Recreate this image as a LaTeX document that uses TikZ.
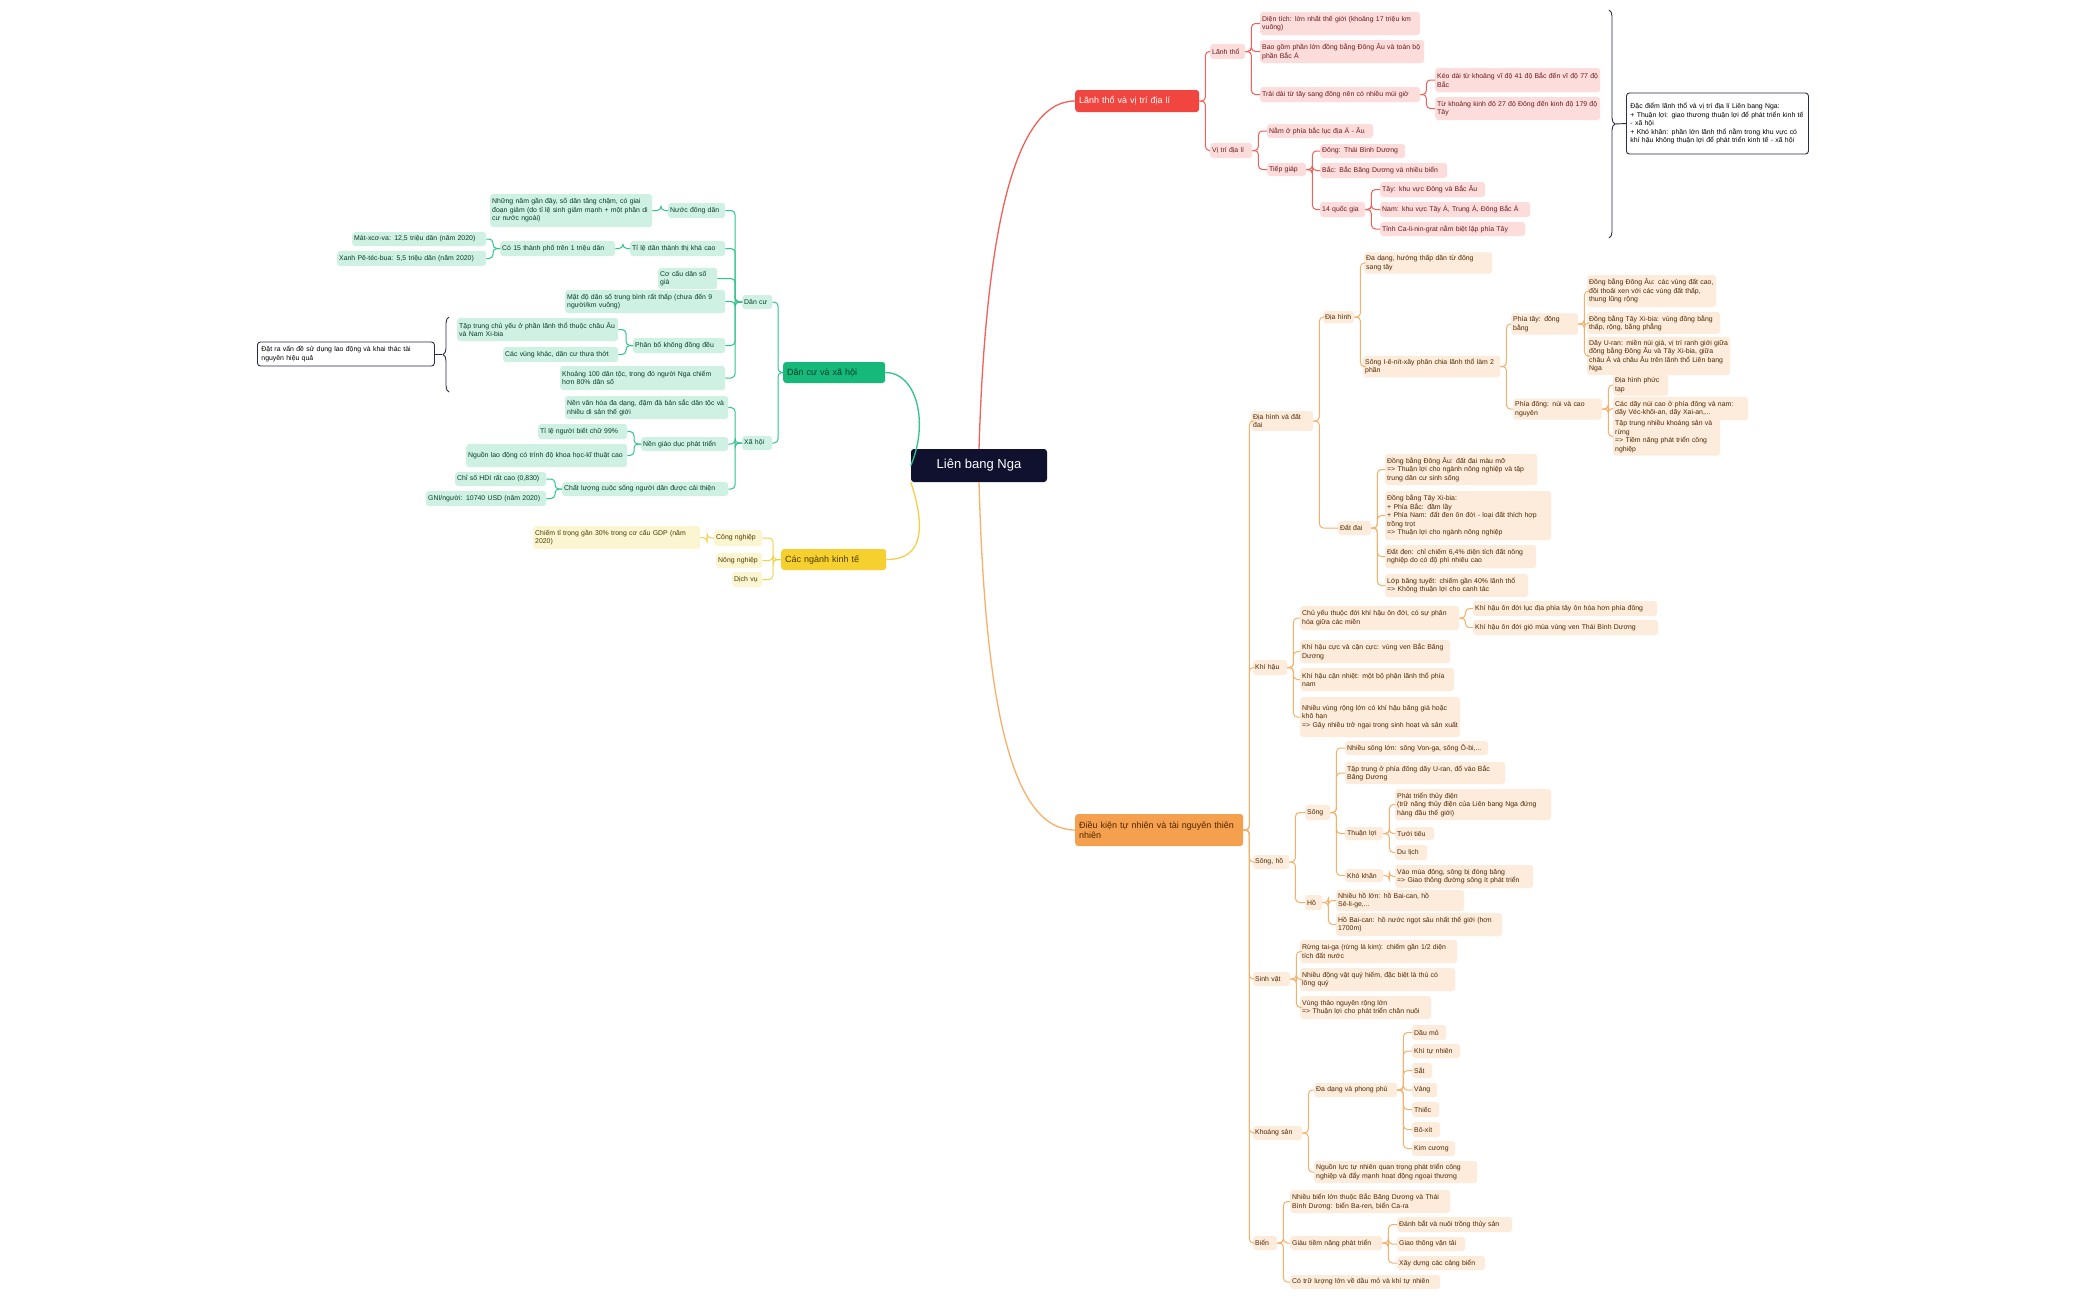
\documentclass[tikz,border=0pt]{standalone}
\usepackage{fontspec}
\setmainfont{Liberation Sans}
\usetikzlibrary{decorations.pathreplacing}
\definecolor{rootc}{HTML}{10112E}
\definecolor{redm}{HTML}{F0463F}\definecolor{redl}{HTML}{FDDCDC}\definecolor{redt}{HTML}{6A1A1A}\definecolor{redline}{HTML}{F2605A}
\definecolor{orm}{HTML}{F5A04E}\definecolor{orl}{HTML}{FDEBDC}\definecolor{ort}{HTML}{4F2800}\definecolor{orline}{HTML}{F7B06A}
\definecolor{grm}{HTML}{16B97A}\definecolor{grl}{HTML}{CFF1E3}\definecolor{grt}{HTML}{063D2A}\definecolor{grline}{HTML}{2EC48A}
\definecolor{yem}{HTML}{F6D02F}\definecolor{yel}{HTML}{FCF5D2}\definecolor{yet}{HTML}{4A3B00}\definecolor{yeline}{HTML}{F2D04A}
\definecolor{navy}{HTML}{2A2A4A}
\newcommand\B[7]{\pgfmathsetmacro\tw{#5-#3-4}\pgfmathsetmacro\yc{(#4+#6)/2}\pgfmathsetmacro\mh{#6-#4}%
\node[#1,anchor=west,text width=\tw pt,minimum height=\mh pt] (#2) at (#3,\yc) {#7};}
\newcommand\cR[3]{\draw[#1] (#2.east) -- ++(6,0) |- (#3.west);}
\newcommand\cL[3]{\draw[#1] (#2.west) -- ++(-7,0) |- (#3.east);}
\begin{document}
\hyphenpenalty=10000 \exhyphenpenalty=10000
\begin{tikzpicture}[x=1pt,y=-1pt,
 base/.style={rounded corners=3pt,inner xsep=2pt,inner ysep=3pt,align=left,font=\fontsize{6.9}{8.5}\selectfont},
 rb/.style={base,fill=redl,text=redt},
 ob/.style={base,fill=orl,text=ort},
 gb/.style={base,fill=grl,text=grt},
 yb/.style={base,fill=yel,text=yet},
 lr/.style={draw=redline,line width=1pt,rounded corners=4pt},
 lo/.style={draw=orline,line width=1pt,rounded corners=4pt},
 lg/.style={draw=grline,line width=1pt,rounded corners=4pt},
 ly/.style={draw=yeline,line width=1pt,rounded corners=4pt},
 note/.style={base,inner xsep=4pt,draw=navy,line width=0.9pt,fill=white,text=black},
 mainf/.style={base,inner xsep=4pt,font=\fontsize{9}{10.5}\selectfont},
]
\fill[white] (0,0) rectangle (2099,1299);
\useasboundingbox (0,0) rectangle (2099,1299);
% root and main
\node[fill=rootc,text=white,rounded corners=3pt,minimum width=136pt,minimum height=33pt,font=\fontsize{13}{15}\selectfont] (root) at (979,465.5) {Liên bang Nga};
\B{mainf,fill=redm,text=white}{L}{1075}{90}{1195}{112}{Lãnh thổ và vị trí địa lí}
\B{mainf,fill=orm,text=ort}{O}{1075}{814}{1239}{846}{Điều kiện tự nhiên và tài nguyên thiên nhiên}
\B{mainf,fill=grm,text=grt}{G}{783}{362}{881}{383}{Dân cư và xã hội}
\B{mainf,fill=yem,text=yet}{Y}{781}{549}{882}{570}{Các ngành kinh tế}
\draw[redline,line width=1.3pt] (root.north) .. controls (985,250) and (1010,101) .. (L.west);
\draw[orline,line width=1.3pt] (root.south) .. controls (985,700) and (1010,830) .. (O.west);
\draw[grline,line width=1.3pt] (root.west) .. controls (930,420) and (915,372) .. (G.east);
\draw[yeline,line width=1.3pt] (root.south west) .. controls (930,540) and (915,560) .. (Y.east);
% ---- red branch
\B{rb}{Lt}{1210}{44}{1245}{59}{Lãnh thổ}
\B{rb}{Vt}{1210}{143}{1252}{158}{Vị trí địa lí}
\B{rb}{L1}{1260}{12}{1420}{35}{Diện tích: lớn nhất thế giới (khoảng 17 triệu km vuông)}
\B{rb}{L2}{1260}{40}{1424}{63}{Bao gồm phần lớn đồng bằng Đông Âu và toàn bộ phần Bắc Á}
\B{rb}{L3}{1260}{87}{1420}{102}{Trải dài từ tây sang đông nên có nhiều múi giờ}
\B{rb}{L31}{1435}{68}{1600}{92}{Kéo dài từ khoảng vĩ độ 41 độ Bắc đến vĩ độ 77 độ Bắc}
\B{rb}{L32}{1435}{97}{1600}{120}{Từ khoảng kinh độ 27 độ Đông đến kinh độ 179 độ Tây}
\B{rb}{V1}{1267}{124}{1373}{138}{Nằm ở phía bắc lục địa Á - Âu}
\B{rb}{V2}{1267}{163}{1306}{176}{Tiếp giáp}
\B{rb}{V21}{1320}{144}{1405}{158}{Đông: Thái Bình Dương}
\B{rb}{V22}{1320}{163}{1447}{178}{Bắc: Bắc Băng Dương và nhiều biển}
\B{rb}{V23}{1320}{202}{1365}{217}{14 quốc gia}
\B{rb}{V231}{1380}{182}{1485}{197}{Tây: khu vực Đông và Bắc Âu}
\B{rb}{V232}{1380}{202}{1530}{217}{Nam: khu vực Tây Á, Trung Á, Đông Bắc Á}
\B{rb}{V233}{1380}{222}{1525}{236}{Tỉnh Ca-li-nin-grat nằm biệt lập phía Tây}
\cR{lr}{L}{Lt}\cR{lr}{L}{Vt}
\cR{lr}{Lt}{L1}\cR{lr}{Lt}{L2}\cR{lr}{Lt}{L3}
\cR{lr}{L3}{L31}\cR{lr}{L3}{L32}
\cR{lr}{Vt}{V1}\cR{lr}{Vt}{V2}
\cR{lr}{V2}{V21}\cR{lr}{V2}{V22}\cR{lr}{V2}{V23}
\cR{lr}{V23}{V231}\cR{lr}{V23}{V232}\cR{lr}{V23}{V233}
% right note
\B{note}{N1}{1626}{93}{1804}{154}{Đặc điểm lãnh thổ và vị trí địa lí Liên bang Nga:\\+ Thuận lợi: giao thương thuận lợi để phát triển kinh tế - xã hội\\+ Khó khăn: phần lớn lãnh thổ nằm trong khu vực có khí hậu không thuận lợi để phát triển kinh tế - xã hội}
\coordinate (b1t) at (1609,10); \coordinate (b1b) at (1609,238);
\draw[navy,line width=0.9pt,decorate,decoration={brace,amplitude=6pt}] (b1t) -- (b1b);
\coordinate (b1tip) at (1615,124);
\draw[navy,line width=0.9pt] (b1tip) -- (N1.west);
% ---- green branch
\B{gb}{Dc}{742}{295}{772}{309}{Dân cư}
\B{gb}{Xh}{742}{436}{772}{450}{Xã hội}
\draw[lg] (G.west) -- ++(-5,0) |- (Dc.east);
\draw[lg] (G.west) -- ++(-5,0) |- (Xh.east);
\B{gb}{D1}{668}{203}{725}{218}{Nước đông dân}
\B{gb}{D11}{490}{194}{652}{227}{Những năm gần đây, số dân tăng chậm, có giai đoạn giảm (do tỉ lệ sinh giảm mạnh + một phần di cư nước ngoài)}
\B{gb}{D2}{630}{241}{725}{256}{Tỉ lệ dân thành thị khá cao}
\B{gb}{D21}{500}{241}{615}{256}{Có 15 thành phố trên 1 triệu dân}
\B{gb}{D211}{352}{232}{486}{246}{Mát-xcơ-va: 12,5 triệu dân (năm 2020)}
\B{gb}{D212}{337}{251}{486}{266}{Xanh Pê-téc-bua: 5,5 triệu dân (năm 2020)}
\B{gb}{D3}{658}{271}{717}{286}{Cơ cấu dân số già}
\B{gb}{D4}{565}{290}{725}{313}{Mật độ dân số trung bình rất thấp (chưa đến 9 người/km vuông)}
\B{gb}{D5}{633}{338}{725}{353}{Phân bố không đồng đều}
\B{gb}{D51}{457}{318}{618}{341}{Tập trung chủ yếu ở phần lãnh thổ thuộc châu Âu và Nam Xi-bia}
\B{gb}{D52}{503}{347}{618}{362}{Các vùng khác, dân cư thưa thớt}
\B{gb}{D6}{560}{366}{725}{390}{Khoảng 100 dân tộc, trong đó người Nga chiếm hơn 80\% dân số}
\cL{lg}{Dc}{D1}\cL{lg}{Dc}{D2}\cL{lg}{Dc}{D3}\cL{lg}{Dc}{D4}\cL{lg}{Dc}{D5}\cL{lg}{Dc}{D6}
\cL{lg}{D1}{D11}\cL{lg}{D2}{D21}\cL{lg}{D21}{D211}\cL{lg}{D21}{D212}
\cL{lg}{D5}{D51}\cL{lg}{D5}{D52}
\B{gb}{X1}{565}{396}{728}{419}{Nền văn hóa đa dạng, đậm đà bản sắc dân tộc và nhiều di sản thế giới}
\B{gb}{X2}{641}{437}{728}{451}{Nền giáo dục phát triển}
\B{gb}{X21}{538}{424}{627}{439}{Tỉ lệ người biết chữ 99\%}
\B{gb}{X22}{466}{444}{627}{467}{Nguồn lao động có trình độ khoa học-kĩ thuật cao}
\B{gb}{X3}{562}{482}{728}{496}{Chất lượng cuộc sống người dân được cải thiện}
\B{gb}{X31}{455}{472}{546}{486}{Chỉ số HDI rất cao (0,830)}
\B{gb}{X32}{426}{491}{546}{506}{GNI/người: 10740 USD (năm 2020)}
\cL{lg}{Xh}{X1}\cL{lg}{Xh}{X2}\cL{lg}{Xh}{X3}
\cL{lg}{X2}{X21}\cL{lg}{X2}{X22}\cL{lg}{X3}{X31}\cL{lg}{X3}{X32}
% left note
\B{note}{N2}{257}{342}{430}{366}{Đặt ra vấn đề sử dụng lao động và khai thác tài nguyên hiệu quả}
\coordinate (b2b) at (449,392); \coordinate (b2t) at (449,317);
\draw[navy,line width=0.9pt,decorate,decoration={brace,amplitude=6pt}] (b2b) -- (b2t);
\coordinate (b2tip) at (442,354);
\draw[navy,line width=0.9pt] (b2tip) -- (N2.east);
% ---- yellow branch
\B{yb}{Y1}{714}{530}{762}{546}{Công nghiệp}
\B{yb}{Y2}{716}{553}{762}{568}{Nông nghiệp}
\B{yb}{Y3}{732}{572}{762}{587}{Dịch vụ}
\B{yb}{Y11}{533}{526}{700}{549}{Chiếm tỉ trọng gần 30\% trong cơ cấu GDP (năm 2020)}
\draw[ly] (Y.west) -- ++(-8,0) |- (Y1.east);
\draw[ly] (Y.west) -- ++(-8,0) |- (Y2.east);
\draw[ly] (Y.west) -- ++(-8,0) |- (Y3.east);
\cL{ly}{Y1}{Y11}
% ---- orange branch
\B{ob}{A}{1251}{414}{1313}{428}{Địa hình và đất đai}
\B{ob}{Kh}{1253}{660}{1287}{675}{Khí hậu}
\B{ob}{Sh}{1253}{855}{1289}{869}{Sông, hồ}
\B{ob}{Sv}{1253}{972}{1290}{986}{Sinh vật}
\B{ob}{Ks}{1253}{1126}{1302}{1140}{Khoáng sản}
\B{ob}{Bi}{1253}{1236}{1277}{1250}{Biển}
\foreach \c in {A,Kh,Sh,Sv,Ks,Bi}{\draw[lo] (O.east) -- ++(6,0) |- (\c.west);}
\B{ob}{A1}{1323}{311}{1354}{323}{Địa hình}
\B{ob}{A2}{1338}{521}{1371}{535}{Đất đai}
\cR{lo}{A}{A1}\cR{lo}{A}{A2}
\B{ob}{A11}{1364}{256}{1492}{270}{Đa dạng, hướng thấp dần từ đông sang tây}
\B{ob}{A12}{1363}{359}{1500}{374}{Sông I-ê-nít-xây phân chia lãnh thổ làm 2 phần}
\cR{lo}{A1}{A11}\cR{lo}{A1}{A12}
\B{ob}{A121}{1511}{317}{1578}{331}{Phía tây: đồng bằng}
\B{ob}{A122}{1513}{402}{1602}{416}{Phía đông: núi và cao nguyên}
\cR{lo}{A12}{A121}\cR{lo}{A12}{A122}
\B{ob}{P1}{1587}{275}{1716}{307}{Đồng bằng Đông Âu: các vùng đất cao, đồi thoải xen với các vùng đất thấp, thung lũng rộng}
\B{ob}{P2}{1587}{313}{1720}{333}{Đồng bằng Tây Xi-bia: vùng đồng bằng thấp, rộng, bằng phẳng}
\B{ob}{P3}{1587}{340}{1730}{372}{Dãy U-ran: miền núi già, vị trí ranh giới giữa đồng bằng Đông Âu và Tây Xi-bia, giữa châu Á và châu Âu trên lãnh thổ Liên bang Nga}
\cR{lo}{A121}{P1}\cR{lo}{A121}{P2}\cR{lo}{A121}{P3}
\B{ob}{Q1}{1613}{378}{1668}{392}{Địa hình phức tạp}
\B{ob}{Q2}{1613}{397}{1748}{420}{Các dãy núi cao ở phía đông và nam: dãy Véc-khôi-an, dãy Xai-an,...}
\B{ob}{Q3}{1613}{425}{1720}{448}{Tập trung nhiều khoáng sản và rừng\\=> Tiềm năng phát triển công nghiệp}
\cR{lo}{A122}{Q1}\cR{lo}{A122}{Q2}\cR{lo}{A122}{Q3}
\B{ob}{E1}{1385}{454}{1537}{485}{Đồng bằng Đông Âu: đất đai màu mỡ\\=> Thuận lợi cho ngành nông nghiệp và tập trung dân cư sinh sống}
\B{ob}{E2}{1385}{491}{1551}{540}{Đồng bằng Tây Xi-bia:\\+ Phía Bắc: đầm lầy\\+ Phía Nam: đất đen ôn đới - loại đất thích hợp trồng trọt\\=> Thuận lợi cho ngành nông nghiệp}
\B{ob}{E3}{1385}{545}{1536}{568}{Đất đen: chỉ chiếm 6,4\% diện tích đất nông nghiệp do có độ phì nhiêu cao}
\B{ob}{E4}{1385}{574}{1528}{597}{Lớp băng tuyết: chiếm gần 40\% lãnh thổ\\=> Không thuận lợi cho canh tác}
\cR{lo}{A2}{E1}\cR{lo}{A2}{E2}\cR{lo}{A2}{E3}\cR{lo}{A2}{E4}
\B{ob}{K1}{1300}{606}{1459}{630}{Chủ yếu thuộc đới khí hậu ôn đới, có sự phân hóa giữa các miền}
\B{ob}{K11}{1473}{601}{1657}{616}{Khí hậu ôn đới lục địa phía tây ôn hòa hơn phía đông}
\B{ob}{K12}{1473}{620}{1658}{635}{Khí hậu ôn đới gió mùa vùng ven Thái Bình Dương}
\B{ob}{K2}{1300}{640}{1450}{663}{Khí hậu cực và cận cực: vùng ven Bắc Băng Dương}
\B{ob}{K3}{1300}{668}{1454}{691}{Khí hậu cận nhiệt: một bộ phận lãnh thổ phía nam}
\B{ob}{K4}{1300}{697}{1460}{737}{Nhiều vùng rộng lớn có khí hậu băng giá hoặc khô hạn\\=> Gây nhiều trở ngại trong sinh hoạt và sản xuất}
\cR{lo}{Kh}{K1}\cR{lo}{Kh}{K2}\cR{lo}{Kh}{K3}\cR{lo}{Kh}{K4}
\cR{lo}{K1}{K11}\cR{lo}{K1}{K12}
\B{ob}{S1}{1305}{805}{1330}{820}{Sông}
\B{ob}{S2}{1305}{895}{1322}{910}{Hồ}
\cR{lo}{Sh}{S1}\cR{lo}{Sh}{S2}
\B{ob}{S11}{1345}{741}{1488}{755}{Nhiều sông lớn: sông Von-ga, sông Ô-bi,...}
\B{ob}{S12}{1345}{762}{1505}{784}{Tập trung ở phía đông dãy U-ran, đổ vào Bắc Băng Dương}
\B{ob}{S13}{1345}{827}{1383}{840}{Thuận lợi}
\B{ob}{S14}{1345}{869}{1383}{882}{Khó khăn}
\cR{lo}{S1}{S11}\cR{lo}{S1}{S12}\cR{lo}{S1}{S13}\cR{lo}{S1}{S14}
\B{ob}{S131}{1395}{789}{1551}{820}{Phát triển thủy điện\\(trữ năng thủy điện của Liên bang Nga đứng hàng đầu thế giới)}
\B{ob}{S132}{1395}{827}{1434}{840}{Tưới tiêu}
\B{ob}{S133}{1395}{845}{1427}{860}{Du lịch}
\cR{lo}{S13}{S131}\cR{lo}{S13}{S132}\cR{lo}{S13}{S133}
\B{ob}{S141}{1395}{865}{1533}{888}{Vào mùa đông, sông bị đóng băng\\=> Giao thông đường sông ít phát triển}
\cR{lo}{S14}{S141}
\B{ob}{S21}{1336}{893}{1464}{908}{Nhiều hồ lớn: hồ Bai-can, hồ Sê-li-ge,...}
\B{ob}{S22}{1336}{913}{1502}{936}{Hồ Bai-can: hồ nước ngọt sâu nhất thế giới (hơn 1700m)}
\cR{lo}{S2}{S21}\cR{lo}{S2}{S22}
\B{ob}{T1}{1300}{940}{1457}{963}{Rừng tai-ga (rừng lá kim): chiếm gần 1/2 diện tích đất nước}
\B{ob}{T2}{1300}{968}{1455}{991}{Nhiều động vật quý hiếm, đặc biệt là thú có lông quý}
\B{ob}{T3}{1300}{996}{1431}{1019}{Vùng thảo nguyên rộng lớn\\=> Thuận lợi cho phát triển chăn nuôi}
\cR{lo}{Sv}{T1}\cR{lo}{Sv}{T2}\cR{lo}{Sv}{T3}
\B{ob}{M1}{1314}{1083}{1397}{1097}{Đa dạng và phong phú}
\B{ob}{M2}{1314}{1161}{1477}{1183}{Nguồn lực tự nhiên quan trọng phát triển công nghiệp và đẩy mạnh hoạt động ngoại thương}
\cR{lo}{Ks}{M1}\cR{lo}{Ks}{M2}
\B{ob}{m1}{1412}{1025}{1446}{1040}{Dầu mỏ}
\B{ob}{m2}{1412}{1044}{1460}{1058}{Khí tự nhiên}
\B{ob}{m3}{1412}{1063}{1432}{1078}{Sắt}
\B{ob}{m4}{1412}{1083}{1437}{1097}{Vàng}
\B{ob}{m5}{1412}{1102}{1439}{1117}{Thiếc}
\B{ob}{m6}{1412}{1122}{1440}{1137}{Bô-xít}
\B{ob}{m7}{1412}{1141}{1455}{1156}{Kim cương}
\foreach \c in {m1,m2,m3,m4,m5,m6,m7}{\cR{lo}{M1}{\c}}
\B{ob}{B1}{1290}{1190}{1450}{1213}{Nhiều biển lớn thuộc Bắc Băng Dương và Thái Bình Dương: biển Ba-ren, biển Ca-ra}
\B{ob}{B2}{1290}{1236}{1382}{1250}{Giàu tiềm năng phát triển}
\B{ob}{B3}{1290}{1275}{1440}{1289}{Có trữ lượng lớn về dầu mỏ và khí tự nhiên}
\cR{lo}{Bi}{B1}\cR{lo}{Bi}{B2}\cR{lo}{Bi}{B3}
\B{ob}{B21}{1397}{1217}{1512}{1232}{Đánh bắt và nuôi trồng thủy sản}
\B{ob}{B22}{1397}{1237}{1465}{1251}{Giao thông vận tải}
\B{ob}{B23}{1397}{1256}{1485}{1270}{Xây dựng các cảng biển}
\cR{lo}{B2}{B21}\cR{lo}{B2}{B22}\cR{lo}{B2}{B23}
\end{tikzpicture}
\end{document}
